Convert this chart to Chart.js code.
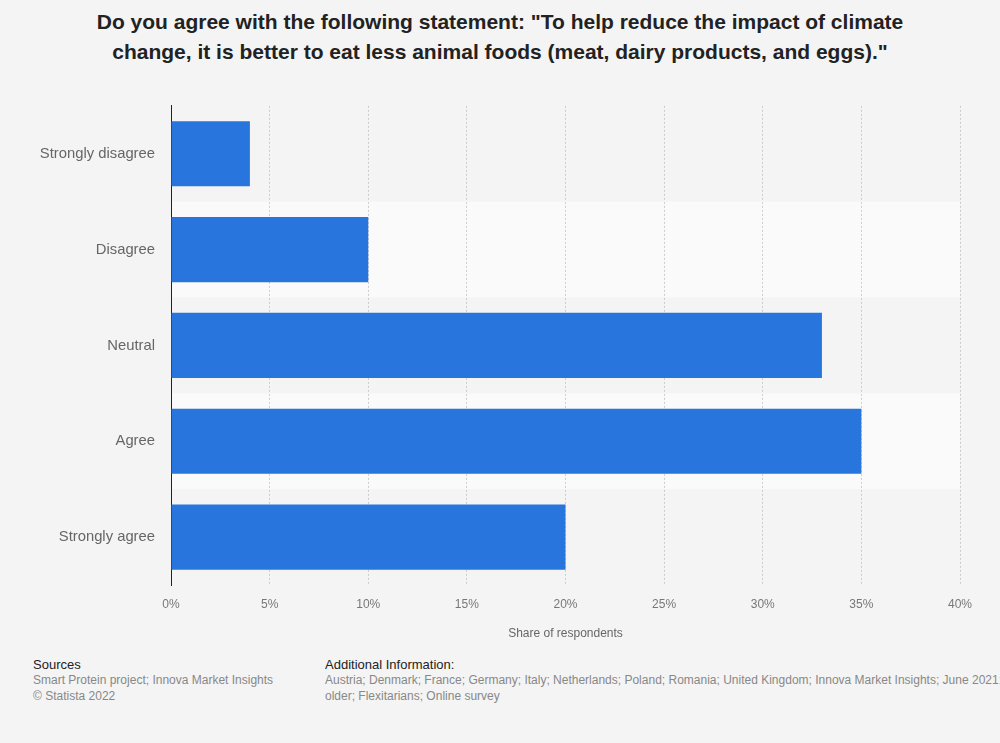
<!DOCTYPE html>
<html>
<head>
<meta charset="utf-8">
<script src="https://cdn.jsdelivr.net/npm/chart.js@4"></script>
<style>
  html, body { margin: 0; padding: 0; background: #f4f4f4; }
  body { width: 1000px; height: 743px; position: relative; overflow: hidden; font-family: "Liberation Sans", Arial, sans-serif; }
  #title { position: absolute; top: 7px; left: 0; width: 1000px; text-align: center; font-weight: bold; font-size: 21px; line-height: 30px; color: #222; }
  #wrap { position: absolute; top: 81px; left: 0; width: 1000px; height: 564px; }
  .foot { position: absolute; top: 657px; font-size: 12px; color: #888; line-height: 15.5px; white-space: nowrap; }
  .foot b { font-weight: normal; color: #222; font-size: 13px; display: block; line-height: 16px; }
</style>
</head>
<body>
<div id="title">Do you agree with the following statement: "To help reduce the impact of climate<br>change, it is better to eat less animal foods (meat, dairy products, and eggs)."</div>
<div id="wrap"><canvas id="chart"></canvas></div>
<div class="foot" style="left:33px;"><b>Sources</b>Smart Protein project; Innova Market Insights<br>© Statista 2022</div>
<div class="foot" style="left:325px; width:675px; overflow:hidden;"><b>Additional Information:</b>Austria; Denmark; France; Germany; Italy; Netherlands; Poland; Romania; United Kingdom; Innova Market Insights; June 2021; 18 years and<br>older; Flexitarians; Online survey</div>
<script>
// categories and values (share of respondents, %)
const categories = ["Strongly disagree", "Disagree", "Neutral", "Agree", "Strongly agree"];
const shares = [4, 10, 33, 35, 20];
const xTicks = [0, 5, 10, 15, 20, 25, 30, 35, 40];

// alternating row bands behind bars
const bandPlugin = {
    id: "bands",
    beforeDraw(chart) {
        const { ctx, chartArea, scales } = chart;
        const y = scales.y;
        ctx.save();
        categories.forEach((c, i) => {
            if (i % 2 === 1) {
                const top = y.getPixelForValue(i - 0.5);
                const bot = y.getPixelForValue(i + 0.5);
                ctx.fillStyle = "#fafafa";
                ctx.fillRect(chartArea.left, top, chartArea.right - chartArea.left, bot - top);
            }
        });
        ctx.restore();
    }
};

const ctx = document.getElementById("chart").getContext("2d");
new Chart(ctx, {
    type: "bar",
    data: {
        labels: categories,
        datasets: [{
            data: shares,
            backgroundColor: "#2876dd",
            borderWidth: 0,
            barPercentage: 0.68,
            categoryPercentage: 1.0,
        }],
    },
    options: {
        indexAxis: "y",
        responsive: true,
        maintainAspectRatio: false,
        animation: false,
        layout: { padding: { top: 0, right: 40, left: 0, bottom: 0 } },
        plugins: {
            legend: { display: false },
            tooltip: { enabled: false },
        },
        scales: {
            x: {
                min: 0,
                max: 40,
                afterBuildTicks: (scale) => { scale.ticks = xTicks.map(v => ({ value: v })); },
                afterFit: (scale) => { scale.height = 60; },
                grid: { color: "#cccccc", lineWidth: 1, drawTicks: false },
                border: { display: false, dash: [2, 2] },
                ticks: {
                    padding: 12,
                    color: "#777",
                    font: { family: "Liberation Sans", size: 12 },
                    callback: (v) => v + "%",
                },
                title: {
                    display: true,
                    text: "Share of respondents",
                    color: "#666",
                    font: { family: "Liberation Sans", size: 12 },
                    padding: { top: 7 },
                },
            },
            y: {
                afterFit: (scale) => { scale.width = 171; },
                grid: { display: false, drawTicks: false },
                border: { display: true, color: "#222", width: 1 },
                ticks: {
                    padding: 16,
                    color: "#666",
                    font: { family: "Liberation Sans", size: 14.8 },
                },
            },
        },
    },
    plugins: [bandPlugin],
});
</script>
</body>
</html>
